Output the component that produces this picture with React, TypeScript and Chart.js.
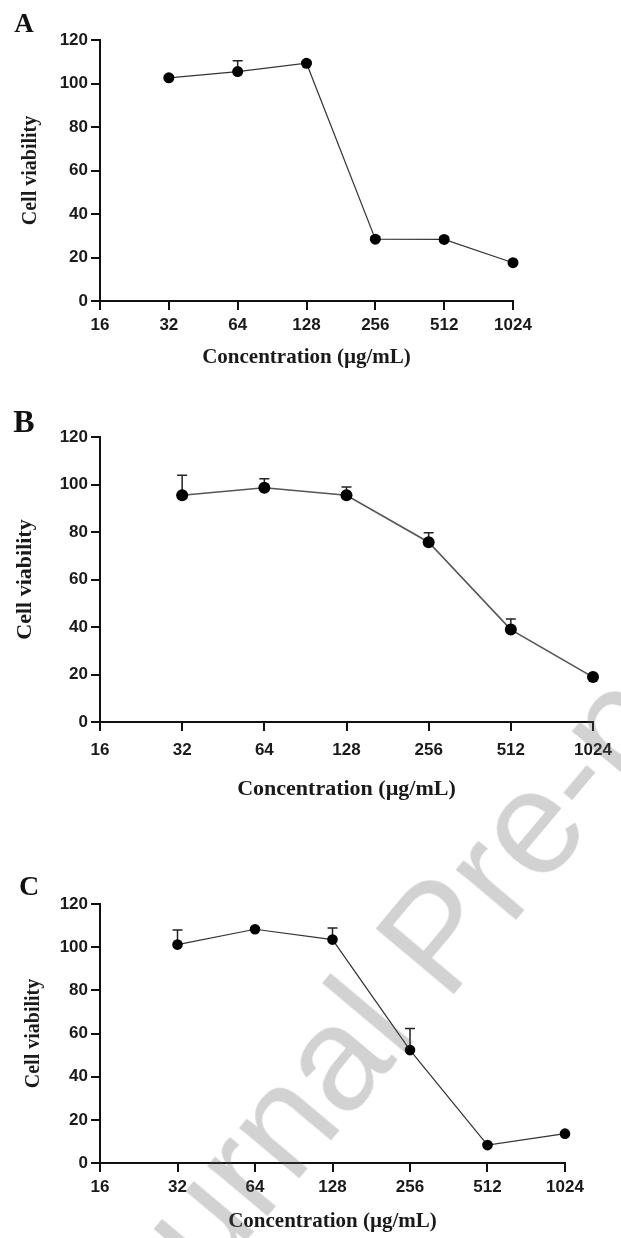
import React, { useEffect, useRef } from "react";
import { Chart, registerables } from "chart.js";

Chart.register(...registerables);

// ---------------- data ----------------
const concentrations = [32, 64, 128, 256, 512, 1024];
const xTickValues = [16, 32, 64, 128, 256, 512, 1024];
const yTickValues = [0, 20, 40, 60, 80, 100, 120];

const viabilityA = [102.6, 105.5, 109.3, 28.4, 28.3, 17.6];
const errorA = [1, 5, 0.8, 1, 1, 0.5];

const viabilityB = [95.5, 98.6, 95.5, 75.7, 38.9, 18.9];
const errorB = [8.4, 3.8, 3.5, 4, 4.5, 0.5];

const viabilityC = [101.2, 108.3, 103.5, 52.3, 8.3, 13.6];
const errorC = [6.8, 0.5, 5.4, 10, 0.5, 0.5];

const panelLabels = ["A", "B", "C"];
const xTitle = "Concentration (µg/mL)";
const yTitle = "Cell viability";
const watermarkText = "Journal Pre-proof";

// ---------------- layout / style ----------------
const W = 621;
const SANS = '"Liberation Sans", Arial, sans-serif';
const SERIF = '"Liberation Serif", "Times New Roman", serif';

type Panel = {
  values: number[];
  errors: number[];
  label: string;
  top: number;
  height: number;
  area: { left: number; right: number; top: number; bottom: number };
  tickFont: number;
  xTitleFont: number;
  yTitleFont: number;
  xTitleCenter: number; // local y
  yTitleCenterX: number;
  letterFont: number;
  letterPos: [number, number]; // local
  pointR: number;
  lineColor: string;
  lineW: number;
  xPad: number;
};

const panels: Panel[] = [
  {
    values: viabilityA,
    errors: errorA,
    label: panelLabels[0],
    top: 0,
    height: 380,
    area: { left: 100, right: 513, top: 40, bottom: 301 },
    tickFont: 17,
    xTitleFont: 21,
    yTitleFont: 20,
    xTitleCenter: 358,
    yTitleCenterX: 31,
    letterFont: 27,
    letterPos: [24, 25],
    pointR: 5.5,
    lineColor: "#333",
    lineW: 1.2,
    xPad: 5,
  },
  {
    values: viabilityB,
    errors: errorB,
    label: panelLabels[1],
    top: 380,
    height: 430,
    area: { left: 100, right: 593, top: 57, bottom: 342 },
    tickFont: 17,
    xTitleFont: 22,
    yTitleFont: 22,
    xTitleCenter: 409,
    yTitleCenterX: 25,
    letterFont: 32,
    letterPos: [24, 44],
    pointR: 6,
    lineColor: "#555",
    lineW: 1.6,
    xPad: 9,
  },
  {
    values: viabilityC,
    errors: errorC,
    label: panelLabels[2],
    top: 810,
    height: 428,
    area: { left: 100, right: 565, top: 94, bottom: 353 },
    tickFont: 17,
    xTitleFont: 21,
    yTitleFont: 20,
    xTitleCenter: 412,
    yTitleCenterX: 34,
    letterFont: 28,
    letterPos: [29, 78],
    pointR: 5.3,
    lineColor: "#333",
    lineW: 1.2,
    xPad: 5,
  },
];

function makeConfig(p: Panel): any {
  const xLH = p.xTitleFont * 1.2;
  const yLH = p.yTitleFont * 1.2;

  const errorBars = {
    id: "errorBars",
    beforeDatasetsDraw(chart: any) {
      const { ctx } = chart;
      const xs = chart.scales.x;
      const ys = chart.scales.y;
      ctx.save();
      ctx.strokeStyle = "#222";
      ctx.lineWidth = 1.5;
      for (let i = 0; i < concentrations.length; i++) {
        const x = xs.getPixelForValue(concentrations[i]);
        const y1 = ys.getPixelForValue(p.values[i]);
        const y2 = ys.getPixelForValue(p.values[i] + p.errors[i]);
        ctx.beginPath();
        ctx.moveTo(x, y1);
        ctx.lineTo(x, y2);
        ctx.moveTo(x - 5, y2);
        ctx.lineTo(x + 5, y2);
        ctx.stroke();
      }
      ctx.restore();
    },
  };

  const letter = {
    id: "panelLetter",
    afterDraw(chart: any) {
      const { ctx } = chart;
      ctx.save();
      ctx.font = `bold ${p.letterFont}px ${SERIF}`;
      ctx.fillStyle = "#111";
      ctx.textAlign = "center";
      ctx.textBaseline = "middle";
      ctx.fillText(p.label, p.letterPos[0], p.letterPos[1]);
      ctx.restore();
    },
  };

  return {
    type: "line",
    data: {
      datasets: [
        {
          data: concentrations.map((c, i) => ({ x: c, y: p.values[i] })),
          borderColor: p.lineColor,
          borderWidth: p.lineW,
          pointRadius: p.pointR,
          pointBackgroundColor: "#000",
          pointBorderColor: "#000",
          pointBorderWidth: 0,
          tension: 0,
          fill: false,
          clip: false,
        },
      ],
    },
    options: {
      responsive: false,
      animation: false,
      events: [],
      layout: {
        padding: { left: 0, top: p.area.top, right: W - p.area.right, bottom: 0 },
      },
      plugins: {
        legend: { display: false },
        tooltip: { enabled: false },
        title: { display: false },
      },
      scales: {
        x: {
          type: "logarithmic",
          min: 16,
          max: 1024,
          afterBuildTicks: (s: any) => {
            s.ticks = xTickValues.map((v) => ({ value: v }));
          },
          afterFit: (s: any) => {
            s.height = p.height - p.area.bottom;
          },
          ticks: {
            callback: (v: any) => String(v),
            autoSkip: false,
            maxRotation: 0,
            padding: p.xPad,
            color: "#1a1a1a",
            font: { family: SANS, weight: "bold", size: p.tickFont },
          },
          grid: {
            display: true,
            drawOnChartArea: false,
            drawTicks: true,
            tickLength: 9,
            color: "#111",
            lineWidth: 2,
          },
          border: { display: true, color: "#111", width: 2 },
          title: {
            display: true,
            text: xTitle,
            color: "#1a1a1a",
            font: { family: SERIF, weight: "bold", size: p.xTitleFont, lineHeight: 1.2 },
            padding: { top: 0, bottom: p.height - p.xTitleCenter - xLH / 2 },
          },
        },
        y: {
          type: "linear",
          min: 0,
          max: 120,
          afterBuildTicks: (s: any) => {
            s.ticks = yTickValues.map((v) => ({ value: v }));
          },
          afterFit: (s: any) => {
            s.width = p.area.left;
          },
          ticks: {
            padding: 3,
            color: "#1a1a1a",
            font: { family: SANS, weight: "bold", size: p.tickFont },
          },
          grid: {
            display: true,
            drawOnChartArea: false,
            drawTicks: true,
            tickLength: 9,
            color: "#111",
            lineWidth: 2,
          },
          border: { display: true, color: "#111", width: 2 },
          title: {
            display: true,
            text: yTitle,
            color: "#1a1a1a",
            font: { family: SERIF, weight: "bold", size: p.yTitleFont, lineHeight: 1.2 },
            padding: { top: p.yTitleCenterX - yLH / 2, bottom: 0 },
          },
        },
      },
    },
    plugins: [errorBars, letter],
  };
}

function PanelChart({ p }: { p: Panel }) {
  const ref = useRef<HTMLCanvasElement | null>(null);
  useEffect(() => {
    if (!ref.current) return;
    const chart = new Chart(ref.current, makeConfig(p));
    return () => chart.destroy();
  }, [p]);
  return (
    <canvas
      ref={ref}
      width={W}
      height={p.height}
      style={{ position: "absolute", left: 0, top: p.top, width: W, height: p.height }}
    />
  );
}

export default function App() {
  return (
    <div
      style={{
        position: "absolute",
        left: 0,
        top: 0,
        width: W,
        height: 1238,
        overflow: "hidden",
        background: "#fff",
      }}
    >
      {panels.map((p) => (
        <PanelChart key={p.label} p={p} />
      ))}
      <div
        style={{
          position: "absolute",
          left: 436,
          top: 936,
          transform: "translate(-50%, -50%) rotate(-50deg)",
          fontFamily: SANS,
          fontWeight: "normal",
          fontSize: 148,
          lineHeight: 1,
          color: "rgba(90,90,90,0.27)",
          whiteSpace: "nowrap",
          pointerEvents: "none",
        }}
      >
        {watermarkText}
      </div>
    </div>
  );
}
